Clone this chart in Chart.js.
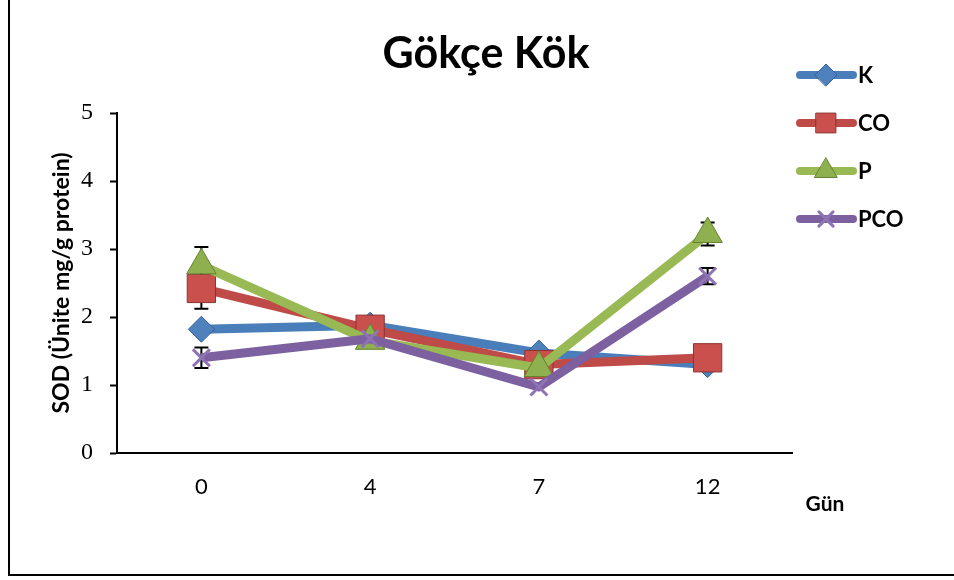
<!DOCTYPE html>
<html><head><meta charset="utf-8">
<script src="https://cdn.jsdelivr.net/npm/chart.js@4.4.0/dist/chart.umd.min.js"></script>
<style>html,body{margin:0;padding:0;background:#fff;} #wrap{width:954px;height:580px;position:relative}</style>
</head><body><div id="wrap"><canvas id="c" width="954" height="580"></canvas></div>
<script>
const days = ['0', '4', '7', '12'];
const seriesNames = ['K', 'CO', 'P', 'PCO'];
const valK = [1.82, 1.88, 1.47, 1.30];
const valCO = [2.42, 1.82, 1.30, 1.40];
const valP = [2.76, 1.65, 1.25, 3.22];
const valPCO = [1.40, 1.68, 0.97, 2.60];
const errK = [null, null, null, null];
const errCO = [0.30, null, null, null];
const errP = [0.27, null, null, 0.17];
const errPCO = [0.15, null, null, 0.12];
const yTicks = [0, 1, 2, 3, 4, 5];
const chartTitle = 'Gökçe Kök';
const yTitle = 'SOD (Ünite mg/g protein)';
const xTitle = 'Gün';

const styles = [
  {line: '#4A7EBB', fill: '#4F81BD', border: '#35609A', shape: 'rectRot', r: 13, lr: 11, bw: 1},
  {line: '#BE4B48', fill: '#C9504D', border: '#8C3331', shape: 'rect', r: 20, lr: 14, bw: 1},
  {line: '#98B954', fill: '#8EB04E', border: '#66822F', shape: 'triangle', r: 17, lr: 13, bw: 1},
  {line: '#7D60A0', fill: '#8E73B5', border: '#8E73B5', shape: 'crossRot', r: 12, lr: 10, bw: 3}
];
const values = [valK, valCO, valP, valPCO];
const errors = [errK, errCO, errP, errPCO];

const datasets = seriesNames.map((n, i) => ({
  label: n,
  data: values[i],
  borderColor: styles[i].line,
  backgroundColor: styles[i].fill,
  borderWidth: 9,
  borderJoinStyle: 'round',
  borderCapStyle: 'butt',
  pointStyle: styles[i].shape,
  pointRadius: styles[i].r,
  pointHoverRadius: styles[i].r,
  pointBackgroundColor: styles[i].fill,
  pointBorderColor: styles[i].border,
  pointBorderWidth: styles[i].bw,
  tension: 0,
  order: 4 - i,
  errors: errors[i]
}));

function drawMarker(ctx, st, x, y, r) {
  ctx.save();
  ctx.fillStyle = st.fill;
  ctx.strokeStyle = st.border;
  ctx.lineWidth = st.bw;
  if (Chart.helpers && Chart.helpers.drawPoint) {
    Chart.helpers.drawPoint(ctx, {pointStyle: st.shape, radius: r, rotation: 0, borderWidth: st.bw}, x, y);
  }
  ctx.restore();
}

const decor = {
  id: 'decor',
  beforeDatasetsDraw(chart) {
    const ctx = chart.ctx;
    const xs = chart.scales.x, ys = chart.scales.y;
    ctx.save();
    ctx.strokeStyle = '#000';
    ctx.lineWidth = 2;
    chart.data.datasets.forEach((ds) => {
      ds.data.forEach((v, j) => {
        const e = ds.errors[j];
        if (e == null) return;
        const x = xs.getPixelForValue(j);
        const y1 = ys.getPixelForValue(v + e);
        const y2 = ys.getPixelForValue(v - e);
        ctx.beginPath();
        ctx.moveTo(x, y1); ctx.lineTo(x, y2);
        ctx.moveTo(x - 7, y1); ctx.lineTo(x + 7, y1);
        ctx.moveTo(x - 7, y2); ctx.lineTo(x + 7, y2);
        ctx.stroke();
      });
    });
    ctx.restore();
  },
  afterDraw(chart) {
    const ctx = chart.ctx;
    ctx.save();
    // frame
    ctx.strokeStyle = '#000';
    ctx.lineWidth = 2;
    ctx.beginPath();
    ctx.moveTo(9, 0); ctx.lineTo(9, 575); ctx.lineTo(954, 575);
    ctx.stroke();
    // title
    ctx.fillStyle = '#000';
    ctx.textAlign = 'center';
    ctx.textBaseline = 'alphabetic';
    ctx.font = 'bold 43px Lato';
    ctx.fillText(chartTitle, 486, 68);
    // x title
    ctx.font = 'bold 21px Lato';
    ctx.fillText(xTitle, 825, 511);
    // legend
    ctx.textAlign = 'left';
    ctx.textBaseline = 'middle';
    seriesNames.forEach((n, i) => {
      const y = 75 + i * 48;
      const st = styles[i];
      ctx.strokeStyle = st.line;
      ctx.lineWidth = 8;
      ctx.lineCap = 'round';
      ctx.beginPath();
      ctx.moveTo(800, y); ctx.lineTo(853, y);
      ctx.stroke();
      drawMarker(ctx, st, 826, y, st.lr);
      ctx.fillStyle = '#000';
      ctx.font = 'bold 22px Lato';
      ctx.fillText(n, 858, y + 1);
    });
    ctx.restore();
  }
};

new Chart(document.getElementById('c'), {
  type: 'line',
  data: {labels: days, datasets: datasets},
  options: {
    responsive: false,
    animation: false,
    events: [],
    layout: {padding: {top: 113, left: 20, right: 162, bottom: 0}},
    plugins: {legend: {display: false}, title: {display: false}, tooltip: {enabled: false}},
    scales: {
      x: {
        type: 'category',
        offset: true,
        grid: {display: false, drawTicks: false},
        border: {display: true, color: '#000', width: 2},
        ticks: {color: '#000', font: {family: 'Lato', size: 22}, padding: 21},
        afterFit(s) { s.height = 127; }
      },
      y: {
        min: 0, max: 5,
        afterBuildTicks(s) { s.ticks = yTicks.map(v => ({value: v})); },
        grid: {display: true, drawOnChartArea: false, drawTicks: true, tickLength: 7, tickColor: '#000', tickWidth: 2},
        border: {display: true, color: '#000', width: 2},
        ticks: {color: '#000', font: {family: 'Liberation Serif', size: 24}, padding: 17},
        title: {display: true, text: yTitle, color: '#000', font: {family: 'Lato', size: 23, weight: 'bold'}, padding: {top: 28, bottom: 0}},
        afterFit(s) { s.width = 97; }
      }
    }
  },
  plugins: [decor]
});
</script>
</body></html>
